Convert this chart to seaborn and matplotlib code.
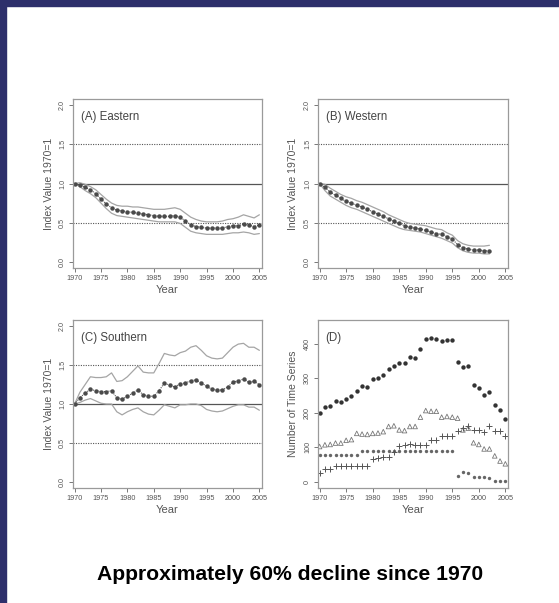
import matplotlib
matplotlib.use("Agg")
import matplotlib.pyplot as plt
from matplotlib.patches import Rectangle
import numpy as np
import pandas as pd
import seaborn as sns

sns.set_style("ticks")
plt.rcParams['font.family'] = ['Liberation Sans', 'DejaVu Sans']

years = list(range(1970, 2006))
years_w = list(range(1970, 2003))

east_mid = [1.00, 0.98, 0.95, 0.92, 0.87, 0.80, 0.74, 0.69, 0.66, 0.65, 0.64, 0.63, 0.62, 0.61, 0.60,
            0.59, 0.58, 0.58, 0.58, 0.59, 0.57, 0.52, 0.47, 0.45, 0.44, 0.43, 0.43, 0.43, 0.43, 0.45,
            0.46, 0.46, 0.48, 0.47, 0.45, 0.47]
east_up = [1.00, 1.01, 0.99, 0.96, 0.92, 0.86, 0.80, 0.75, 0.72, 0.71, 0.71, 0.70, 0.70, 0.69, 0.68,
           0.67, 0.67, 0.67, 0.68, 0.69, 0.67, 0.62, 0.57, 0.54, 0.52, 0.51, 0.51, 0.51, 0.52, 0.54,
           0.55, 0.57, 0.60, 0.58, 0.56, 0.60]
east_lo = [1.00, 0.96, 0.91, 0.87, 0.82, 0.75, 0.68, 0.62, 0.59, 0.58, 0.57, 0.56, 0.55, 0.54, 0.53,
           0.52, 0.51, 0.51, 0.51, 0.51, 0.49, 0.44, 0.39, 0.37, 0.36, 0.35, 0.35, 0.35, 0.35, 0.36,
           0.37, 0.37, 0.38, 0.37, 0.35, 0.36]

west_mid = [1.00, 0.95, 0.89, 0.85, 0.81, 0.77, 0.75, 0.72, 0.70, 0.67, 0.64, 0.61, 0.58, 0.55, 0.52,
            0.49, 0.46, 0.44, 0.43, 0.42, 0.40, 0.38, 0.36, 0.35, 0.32, 0.29, 0.22, 0.18, 0.16, 0.15,
            0.15, 0.14, 0.14]
west_up = [1.00, 0.99, 0.94, 0.90, 0.86, 0.83, 0.81, 0.78, 0.76, 0.73, 0.70, 0.67, 0.64, 0.60, 0.57,
           0.54, 0.51, 0.49, 0.48, 0.47, 0.46, 0.44, 0.42, 0.41, 0.37, 0.34, 0.27, 0.23, 0.21, 0.20,
           0.20, 0.20, 0.21]
west_lo = [1.00, 0.91, 0.84, 0.80, 0.76, 0.72, 0.69, 0.67, 0.64, 0.61, 0.58, 0.55, 0.52, 0.49, 0.46,
           0.43, 0.41, 0.40, 0.39, 0.38, 0.36, 0.34, 0.32, 0.30, 0.27, 0.24, 0.18, 0.14, 0.12, 0.11,
           0.11, 0.10, 0.10]

south_mid = [1.00, 1.08, 1.14, 1.19, 1.17, 1.16, 1.16, 1.17, 1.08, 1.06, 1.10, 1.14, 1.18, 1.12, 1.10,
             1.10, 1.17, 1.27, 1.24, 1.22, 1.26, 1.27, 1.30, 1.31, 1.27, 1.23, 1.19, 1.18, 1.18, 1.22,
             1.28, 1.30, 1.32, 1.28, 1.29, 1.25]
south_up = [1.00, 1.15, 1.25, 1.35, 1.34, 1.34, 1.35, 1.40, 1.29, 1.30, 1.35, 1.42, 1.49, 1.41, 1.40,
            1.40, 1.52, 1.65, 1.63, 1.62, 1.66, 1.68, 1.73, 1.75, 1.69, 1.62, 1.59, 1.58, 1.59, 1.66,
            1.73, 1.77, 1.78, 1.73, 1.73, 1.69]
south_lo = [1.00, 1.02, 1.05, 1.07, 1.04, 1.01, 1.00, 1.00, 0.90, 0.86, 0.90, 0.93, 0.95, 0.90, 0.87,
            0.86, 0.92, 0.99, 0.97, 0.95, 0.99, 0.99, 1.00, 1.00, 0.98, 0.93, 0.91, 0.90, 0.91, 0.94,
            0.97, 0.99, 0.99, 0.96, 0.96, 0.92]

n_total = [200, 216, 218, 234, 232, 240, 247, 263, 277, 273, 297, 300, 308, 325, 336, 343, 345, 362,
           358, 385, 412, 416, 414, 408, 410, 410, 347, 331, 335, 280, 270, 250, 260, 222, 208, 182]
n_tri = [102, 107, 108, 112, 112, 120, 122, 140, 138, 137, 140, 141, 145, 160, 162, 150, 148, 160,
         160, 187, 206, 204, 204, 187, 189, 187, 184, 150, 155, 113, 108, 95, 95, 75, 60, 52]
n_circ = [77, 77, 77, 77, 77, 77, 77, 77, 88, 88, 88, 88, 88, 88, 88, 88, 88, 88, 88, 88, 88, 88,
          88, 88, 88, 88, 18, 27, 25, 15, 15, 15, 10, 2, 2, 2]
n_plus = [26, 36, 36, 46, 46, 46, 47, 47, 47, 47, 67, 70, 72, 73, 85, 103, 107, 108, 107, 105, 107,
          120, 120, 132, 132, 133, 146, 157, 160, 150, 150, 145, 161, 148, 148, 132]

ref_levels = [0.5, 1.0, 1.5]
year_ticks = list(range(1970, 2006, 5))
index_ticks = [0.0, 0.5, 1.0, 1.5, 2.0]
count_ticks = [0, 100, 200, 300, 400]

W, H = 559, 603
fig = plt.figure(figsize=(W / 100, H / 100), dpi=100)
navy = "#2d2f6b"
fig.patches.append(Rectangle((0, 1 - 6 / H), 1, 6 / H, transform=fig.transFigure,
                             color=navy, zorder=0))
fig.patches.append(Rectangle((0, 0), 6 / W, 1, transform=fig.transFigure,
                             color=navy, zorder=0))

def add_ax(l, t, r, b):
    return fig.add_axes([l / W, 1 - b / H, (r - l) / W, (b - t) / H])

box_c = "#9a9a9a"
txt_c = "#555555"

def style(ax, ylabel, yticks, ylabels):
    for s in ax.spines.values():
        s.set_color(box_c)
        s.set_linewidth(0.9)
        s.set_visible(True)
    ax.set_xlim(1969.7, 2005.5)
    ax.set_xticks(year_ticks)
    ax.set_xticklabels([str(y) for y in year_ticks], fontsize=5.2, color=txt_c)
    ax.set_yticks(yticks)
    ax.set_yticklabels(ylabels, fontsize=5.2, color=txt_c, rotation=90, va="center")
    ax.tick_params(length=3, width=0.7, color="#777777", pad=2)
    ax.set_xlabel("Year", fontsize=8, color=txt_c, labelpad=2)
    ax.set_ylabel(ylabel, fontsize=7.5, color=txt_c, labelpad=4)
    ax.grid(False)

def index_panel(ax, title, yrs, mid, up, lo):
    df = pd.DataFrame({"Year": yrs, "mid": mid, "up": up, "lo": lo})
    for lv in ref_levels:
        ax.axhline(lv, color="#555555", lw=0.9 if lv == 1.0 else 0.8,
                   ls="-" if lv == 1.0 else (0, (1, 1.2)), zorder=1)
    sns.lineplot(data=df, x="Year", y="up", ax=ax, color="#a5a5a5", lw=0.9)
    sns.lineplot(data=df, x="Year", y="lo", ax=ax, color="#a5a5a5", lw=0.9)
    sns.lineplot(data=df, x="Year", y="mid", ax=ax, color="#555555", lw=0.8,
                 ls=(0, (1, 1)), marker="o", markersize=3.2, markeredgewidth=0,
                 markerfacecolor="#4a4a4a")
    ax.set_ylim(-0.08, 2.08)
    style(ax, "Index Value 1970=1", index_ticks, [f"{v:.1f}" for v in index_ticks])
    ax.text(0.04, 0.93, title, transform=ax.transAxes, fontsize=8.3, color="#444444",
            va="top", ha="left")

axA = add_ax(73, 99, 262, 268)
index_panel(axA, "(A) Eastern", years, east_mid, east_up, east_lo)
axB = add_ax(318, 99, 508, 268)
index_panel(axB, "(B) Western", years_w, west_mid, west_up, west_lo)
axC = add_ax(73, 320, 262, 488)
index_panel(axC, "(C) Southern", years, south_mid, south_up, south_lo)

axD = add_ax(318, 320, 508, 488)
dfD = pd.DataFrame({"Year": years * 4,
                    "n": n_total + n_tri + n_circ + n_plus,
                    "grp": ["total"] * 36 + ["tri"] * 36 + ["circ"] * 36 + ["plus"] * 36})
sns.scatterplot(data=dfD[dfD.grp == "total"], x="Year", y="n", ax=axD, color="#333333",
                s=10, linewidth=0, marker="o")
sns.scatterplot(data=dfD[dfD.grp == "tri"], x="Year", y="n", ax=axD, facecolor="none",
                edgecolor="#777777", s=11, linewidth=0.6, marker="^")
sns.scatterplot(data=dfD[dfD.grp == "circ"], x="Year", y="n", ax=axD, color="#666666",
                s=6, linewidth=0, marker="o")
sns.scatterplot(data=dfD[dfD.grp == "plus"], x="Year", y="n", ax=axD, color="#555555",
                s=14, linewidth=0.7, marker="+")
axD.set_ylim(-18, 468)
style(axD, "Number of Time Series", count_ticks, [str(v) for v in count_ticks])
axD.text(0.04, 0.93, "(D)", transform=axD.transAxes, fontsize=8.3, color="#444444",
         va="top", ha="left")

fig.text(290 / W, 1 - 575 / H, "Approximately 60% decline since 1970", ha="center",
         va="center", fontsize=15.2, fontweight="bold", color="black")

fig.savefig("out.png", dpi=100)
